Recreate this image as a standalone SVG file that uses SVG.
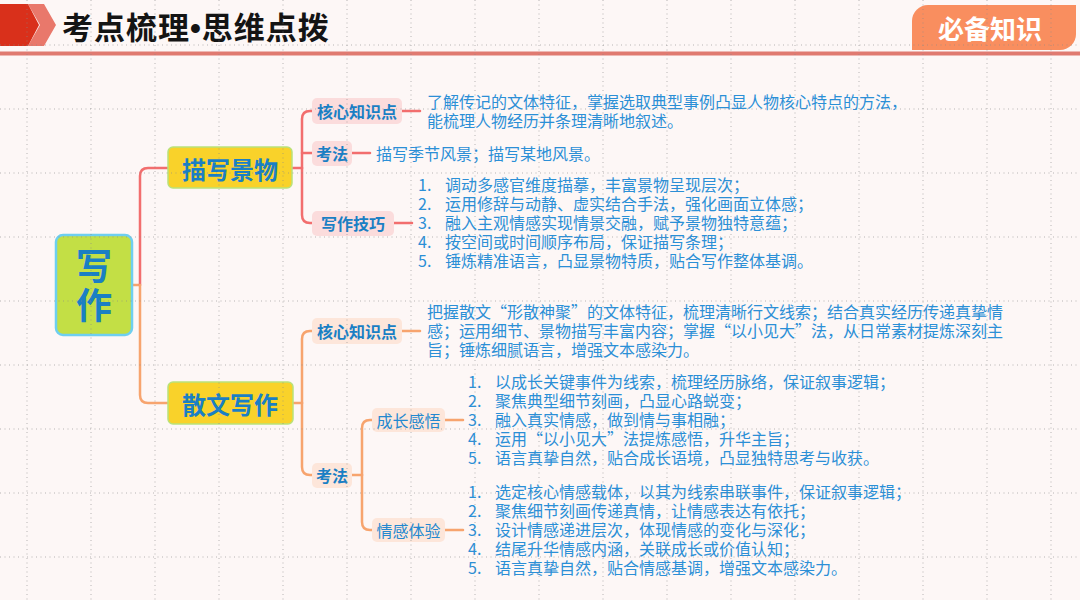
<svg xmlns="http://www.w3.org/2000/svg" width="1080" height="600" viewBox="0 0 1080 600">
<defs>
<style>
text{font-family:"Noto Sans CJK SC","Noto Sans",sans-serif;}
.title{font-size:31px;font-weight:700;fill:#141414;letter-spacing:1px;}
.dot{font-family:"Liberation Sans",Arial,sans-serif;}
.tab{font-size:26px;font-weight:700;fill:#ffffff;}
.root{font-size:36px;font-weight:700;fill:#1a7fc4;}
.l1{font-size:24px;font-weight:700;fill:#1a7fc4;}
.l2{font-size:16px;font-weight:700;fill:#1a7fc4;}
.l3{font-size:16px;fill:#2388cf;}
.leaf{font-size:16px;fill:#2b8fd6;}
.red{fill:none;stroke:#f26e6e;stroke-width:2.5;stroke-linecap:round;}
.org{fill:none;stroke:#f7a46e;stroke-width:2.5;stroke-linecap:round;}
.grid line{stroke:#8a8a8a;stroke-width:1;stroke-dasharray:1 3.5;opacity:0.6;}
.pk{fill:#fbdcdc;}
.pc{fill:#fde6da;}
.yl{fill:#f9d22a;stroke:#b9e27a;stroke-width:1.5;}
</style>
</defs>
<rect x="0" y="0" width="1080" height="600" fill="#fdf7f6"/>

<g id="header">
<polygon points="28,4 44,4 56,25 44,46 28,46 40,25" fill="#e9786b"/>
<polygon points="0,4 28,4 39,25 28,46 0,46" fill="#d9301b"/>
<text class="title" x="62" y="39">考点梳理<tspan class="dot">•</tspan>思维点拨</text>
<path d="M928,5 H1076 V34 A16,16 0 0 1 1060,50 H912 V21 A16,16 0 0 1 928,5 Z" fill="#f98e5f"/>
<text class="tab" x="990" y="27" text-anchor="middle" dominant-baseline="central">必备知识</text>
<rect x="0" y="51.5" width="1080" height="4" fill="#e07a70"/>
</g>

<g id="connectors">
<path class="org" d="M132,285 H140"/>
<path class="red" d="M140,285 V176 Q140,168 148,168 H168"/>
<path class="org" d="M140,285 V395 Q140,403 148,403 H168"/>
<path class="red" d="M292,168 H302"/>
<path class="red" d="M302,168 V119 Q302,111 310,111 H313"/>
<path class="red" d="M302,153 H313"/>
<path class="red" d="M302,168 V215 Q302,223 310,223 H313"/>
<path class="red" d="M402,111 H420"/>
<path class="red" d="M352,153 H370"/>
<path class="red" d="M394,223 H412"/>
<path class="org" d="M293,403 H302"/>
<path class="org" d="M302,403 V339 Q302,331 310,331 H313"/>
<path class="org" d="M302,403 V467 Q302,475 310,475 H313"/>
<path class="org" d="M402,331 H420"/>
<path class="org" d="M352,475 H362"/>
<path class="org" d="M362,475 V428 Q362,420 370,420 H373"/>
<path class="org" d="M362,475 V522 Q362,530 370,530 H373"/>
<path class="org" d="M445,420 H463"/>
<path class="org" d="M445,530 H463"/>
</g>

<g id="node-root">
<rect x="56" y="235" width="76" height="100" rx="7" fill="#c3df45" stroke="#6ecff0" stroke-width="2.5"/>
<text class="root" text-anchor="middle"><tspan x="94" y="280">写</tspan><tspan x="94" y="319">作</tspan></text>
</g>

<g id="node-miaoxie">
<rect class="yl" x="168" y="147" width="124" height="41" rx="5"/>
<text class="l1" x="230" y="168" text-anchor="middle" dominant-baseline="central">描写景物</text>
</g>

<g id="node-sanwen">
<rect class="yl" x="168" y="382" width="125" height="42" rx="5"/>
<text class="l1" x="230" y="403" text-anchor="middle" dominant-baseline="central">散文写作</text>
</g>

<g id="node-m-hexin">
<rect class="pk" x="312" y="98" width="90" height="26" rx="5"/>
<text class="l2" x="357" y="111" text-anchor="middle" dominant-baseline="central">核心知识点</text>
</g>
<g id="node-m-kaofa">
<rect class="pk" x="312" y="141" width="40" height="25" rx="5"/>
<text class="l2" x="332" y="153" text-anchor="middle" dominant-baseline="central">考法</text>
</g>
<g id="node-m-jiqiao">
<rect class="pk" x="312" y="211" width="82" height="25" rx="5"/>
<text class="l2" x="353" y="223" text-anchor="middle" dominant-baseline="central">写作技巧</text>
</g>

<g id="leaf-m-hexin">
<text class="leaf"><tspan x="427" y="108">了解传记的文体特征，掌握选取典型事例凸显人物核心特点的方法，</tspan><tspan x="427" y="127">能梳理人物经历并条理清晰地叙述。</tspan></text>
</g>
<g id="leaf-m-kaofa">
<text class="leaf" x="376" y="153" dominant-baseline="central">描写季节风景；描写某地风景。</text>
</g>
<g id="leaf-m-jiqiao">
<text class="leaf"><tspan x="418" y="191">1.</tspan><tspan x="445" y="191">调动多感官维度描摹，丰富景物呈现层次；</tspan><tspan x="418" y="210">2.</tspan><tspan x="445" y="210">运用修辞与动静、虚实结合手法，强化画面立体感；</tspan><tspan x="418" y="229">3.</tspan><tspan x="445" y="229">融入主观情感实现情景交融，赋予景物独特意蕴；</tspan><tspan x="418" y="248">4.</tspan><tspan x="445" y="248">按空间或时间顺序布局，保证描写条理；</tspan><tspan x="418" y="267">5.</tspan><tspan x="445" y="267">锤炼精准语言，凸显景物特质，贴合写作整体基调。</tspan></text>
</g>

<g id="node-s-hexin">
<rect class="pc" x="312" y="318" width="90" height="26" rx="5"/>
<text class="l2" x="357" y="331" text-anchor="middle" dominant-baseline="central">核心知识点</text>
</g>
<g id="node-s-kaofa">
<rect class="pc" x="312" y="463" width="40" height="25" rx="5"/>
<text class="l2" x="332" y="475" text-anchor="middle" dominant-baseline="central">考法</text>
</g>
<g id="node-s-chengzhang">
<rect class="pc" x="372" y="408" width="73" height="24" rx="5"/>
<text class="l3" x="408.5" y="420" text-anchor="middle" dominant-baseline="central">成长感悟</text>
</g>
<g id="node-s-qinggan">
<rect class="pc" x="372" y="518" width="73" height="24" rx="5"/>
<text class="l3" x="408.5" y="530" text-anchor="middle" dominant-baseline="central">情感体验</text>
</g>

<g id="leaf-s-hexin">
<text class="leaf"><tspan x="427" y="318">把握散文“形散神聚”的文体特征，梳理清晰行文线索；结合真实经历传递真挚情</tspan><tspan x="427" y="337">感；运用细节、景物描写丰富内容；掌握“以小见大”法，从日常素材提炼深刻主</tspan><tspan x="427" y="356">旨；锤炼细腻语言，增强文本感染力。</tspan></text>
</g>
<g id="leaf-s-chengzhang">
<text class="leaf"><tspan x="468" y="388">1.</tspan><tspan x="495" y="388">以成长关键事件为线索，梳理经历脉络，保证叙事逻辑；</tspan><tspan x="468" y="407">2.</tspan><tspan x="495" y="407">聚焦典型细节刻画，凸显心路蜕变；</tspan><tspan x="468" y="426">3.</tspan><tspan x="495" y="426">融入真实情感，做到情与事相融；</tspan><tspan x="468" y="445">4.</tspan><tspan x="495" y="445">运用“以小见大”法提炼感悟，升华主旨；</tspan><tspan x="468" y="464">5.</tspan><tspan x="495" y="464">语言真挚自然，贴合成长语境，凸显独特思考与收获。</tspan></text>
</g>
<g id="leaf-s-qinggan">
<text class="leaf"><tspan x="468" y="498">1.</tspan><tspan x="495" y="498">选定核心情感载体，以其为线索串联事件，保证叙事逻辑；</tspan><tspan x="468" y="517">2.</tspan><tspan x="495" y="517">聚焦细节刻画传递真情，让情感表达有依托；</tspan><tspan x="468" y="536">3.</tspan><tspan x="495" y="536">设计情感递进层次，体现情感的变化与深化；</tspan><tspan x="468" y="555">4.</tspan><tspan x="495" y="555">结尾升华情感内涵，关联成长或价值认知；</tspan><tspan x="468" y="574">5.</tspan><tspan x="495" y="574">语言真挚自然，贴合情感基调，增强文本感染力。</tspan></text>
</g>

<g class="grid" id="grid">
<line x1="27" y1="0" x2="27" y2="600"/><line x1="91" y1="0" x2="91" y2="600"/><line x1="155" y1="0" x2="155" y2="600"/><line x1="219" y1="0" x2="219" y2="600"/><line x1="283" y1="0" x2="283" y2="600"/><line x1="347" y1="0" x2="347" y2="600"/><line x1="411" y1="0" x2="411" y2="600"/><line x1="475" y1="0" x2="475" y2="600"/><line x1="539" y1="0" x2="539" y2="600"/><line x1="603" y1="0" x2="603" y2="600"/><line x1="667" y1="0" x2="667" y2="600"/><line x1="731" y1="0" x2="731" y2="600"/><line x1="795" y1="0" x2="795" y2="600"/><line x1="859" y1="0" x2="859" y2="600"/><line x1="923" y1="0" x2="923" y2="600"/><line x1="987" y1="0" x2="987" y2="600"/><line x1="1051" y1="0" x2="1051" y2="600"/>
<line x1="0" y1="45" x2="1080" y2="45"/><line x1="0" y1="109" x2="1080" y2="109"/><line x1="0" y1="173" x2="1080" y2="173"/><line x1="0" y1="237" x2="1080" y2="237"/><line x1="0" y1="301" x2="1080" y2="301"/><line x1="0" y1="365" x2="1080" y2="365"/><line x1="0" y1="429" x2="1080" y2="429"/><line x1="0" y1="493" x2="1080" y2="493"/><line x1="0" y1="557" x2="1080" y2="557"/>
</g>
</svg>
